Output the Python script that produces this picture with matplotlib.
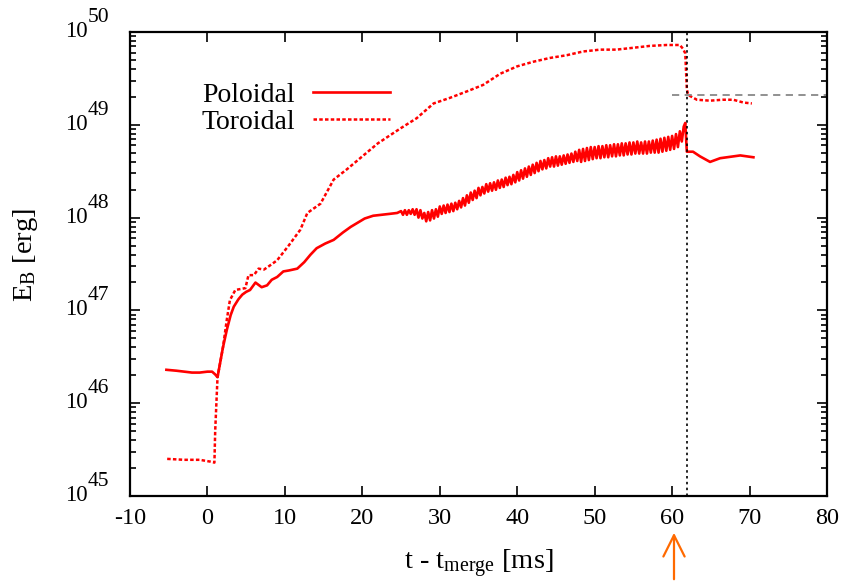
import numpy as np
import matplotlib
matplotlib.use("Agg")
from matplotlib import pyplot as plt
from matplotlib import transforms

# poloidal field energy, log10(E_B / erg)
t_pol = [-5.3, -4.0, -3.0, -2.0, -1.0, 0.0, 0.6, 1.0, 1.3, 1.6, 2.0, 2.5, 3.0, 3.4,
         4.0, 4.5, 5.0, 5.5, 6.2, 7.0, 7.7, 8.3, 9.0, 9.8, 10.5, 11.6, 12.5, 13.3,
         14.1, 15.2, 16.3, 17.5, 18.5, 19.3, 20.3, 21.4, 22.5, 23.5, 24.5,
         25.0, 25.25, 25.5, 25.75, 26.0, 26.25, 26.5, 26.75,
         27.0, 27.25, 27.5, 27.75, 28.0, 28.25, 28.5, 28.75,
         29.0, 29.25, 29.5, 29.75, 30.0, 30.25, 30.5, 30.75,
         31.0, 31.25, 31.5, 31.75, 32.0, 32.25, 32.5, 32.75,
         33.0, 33.25, 33.5, 33.75, 34.0, 34.25, 34.5, 34.75,
         35.0, 35.25, 35.5, 35.75, 36.0, 36.25, 36.5, 36.75,
         37.0, 37.25, 37.5, 37.75, 38.0, 38.25, 38.5, 38.75,
         39.0, 39.25, 39.5, 39.75, 40.0, 40.25, 40.5, 40.75,
         41.0, 41.25, 41.5, 41.75, 42.0, 42.25, 42.5, 42.75,
         43.0, 43.25, 43.5, 43.75, 44.0, 44.25, 44.5, 44.75,
         45.0, 45.25, 45.5, 45.75, 46.0, 46.25, 46.5, 46.75,
         47.0, 47.25, 47.5, 47.75, 48.0, 48.25, 48.5, 48.75,
         49.0, 49.25, 49.5, 49.75, 50.0, 50.25, 50.5, 50.75,
         51.0, 51.25, 51.5, 51.75, 52.0, 52.25, 52.5, 52.75,
         53.0, 53.25, 53.5, 53.75, 54.0, 54.25, 54.5, 54.75,
         55.0, 55.25, 55.5, 55.75, 56.0, 56.25, 56.5, 56.75,
         57.0, 57.25, 57.5, 57.75, 58.0, 58.25, 58.5, 58.75,
         59.0, 59.25, 59.5, 59.75, 60.0, 60.25, 60.5, 60.75,
         61.0, 61.25, 61.5, 61.7, 61.9,
         62.7, 63.6, 64.9, 66.2, 67.9, 68.8, 70.5]
logE_pol = [46.36, 46.35, 46.34, 46.33, 46.33, 46.34, 46.34, 46.31, 46.28, 46.42, 46.60, 46.79, 46.95, 47.04,
            47.12, 47.17, 47.20, 47.22, 47.30, 47.25, 47.27, 47.33, 47.36, 47.42, 47.43, 47.45, 47.52, 47.60,
            47.67, 47.72, 47.76, 47.84, 47.90, 47.94, 47.99, 48.02, 48.03, 48.04, 48.05,
            48.07, 48.03, 48.08, 48.03, 48.08, 48.04, 48.09, 48.03,
            48.09, 48.00, 48.08, 47.99, 48.05, 47.96, 48.06, 47.97,
            48.08, 47.99, 48.09, 48.01, 48.12, 48.04, 48.13, 48.05,
            48.14, 48.06, 48.15, 48.07, 48.16, 48.09, 48.18, 48.11,
            48.21, 48.13, 48.24, 48.16, 48.27, 48.19, 48.29, 48.21,
            48.32, 48.24, 48.33, 48.26, 48.36, 48.28, 48.37, 48.29,
            48.38, 48.30, 48.40, 48.32, 48.41, 48.33, 48.43, 48.35,
            48.44, 48.36, 48.46, 48.38, 48.49, 48.40, 48.51, 48.42,
            48.53, 48.44, 48.55, 48.46, 48.57, 48.48, 48.59, 48.50,
            48.61, 48.52, 48.62, 48.53, 48.64, 48.55, 48.65, 48.55,
            48.66, 48.56, 48.66, 48.57, 48.67, 48.58, 48.68, 48.59,
            48.69, 48.60, 48.71, 48.61, 48.73, 48.60, 48.74, 48.61,
            48.75, 48.62, 48.76, 48.63, 48.76, 48.64, 48.77, 48.64,
            48.77, 48.65, 48.78, 48.65, 48.78, 48.66, 48.79, 48.66,
            48.79, 48.67, 48.80, 48.67, 48.80, 48.68, 48.81, 48.68,
            48.81, 48.69, 48.82, 48.69, 48.81, 48.69, 48.82, 48.69,
            48.82, 48.70, 48.83, 48.70, 48.84, 48.70, 48.85, 48.71,
            48.86, 48.72, 48.87, 48.73, 48.88, 48.74, 48.90, 48.76,
            48.93, 48.82, 48.98, 49.02, 48.71,
            48.71, 48.66, 48.60, 48.64, 48.66, 48.67, 48.65]

# toroidal field energy
t_tor = [-5.2, -3.0, -1.0, 0.4, 0.9, 1.0, 1.3, 2.0, 2.5, 2.9, 3.6, 4.9, 5.3, 6.0,
         6.6, 7.3, 8.0, 9.0, 10.5, 12.0, 12.9, 14.6, 16.3, 18.0, 20.0, 22.0, 24.9,
         27.0, 29.2, 31.3, 33.5, 35.6, 37.8, 40.0, 42.1, 44.2, 46.4, 48.5, 50.7,
         52.8, 55.0, 57.1, 59.3, 61.0, 61.4, 61.7, 61.9, 62.1, 63.2, 64.9, 66.5,
         67.9, 69.2, 70.3]
logE_tor = [45.40, 45.39, 45.39, 45.37, 45.36, 45.70, 46.28, 46.60, 46.90, 47.11, 47.22, 47.24, 47.38, 47.38,
            47.45, 47.44, 47.48, 47.54, 47.70, 47.87, 48.05, 48.15, 48.41, 48.52, 48.66, 48.80, 48.96,
            49.07, 49.23, 49.29, 49.36, 49.43, 49.55, 49.63, 49.68, 49.72, 49.75, 49.79, 49.81,
            49.81, 49.83, 49.85, 49.86, 49.86, 49.82, 49.77, 49.38, 49.32, 49.27, 49.26, 49.27,
            49.27, 49.24, 49.23]

t_collapse = 61.9          # vertical dotted line
t_ref = [60, 80]           # horizontal grey dashed reference
E_ref = 2.1e49
y_decades = [45, 46, 47, 48, 49, 50]

plt.rcParams['font.family'] = ['Liberation Serif', 'DejaVu Serif']
plt.rcParams['mathtext.fontset'] = 'custom'
plt.rcParams['mathtext.rm'] = 'Liberation Serif'
plt.rcParams['mathtext.it'] = 'Liberation Serif:italic'
plt.rcParams['axes.unicode_minus'] = False
plt.rcParams['font.size'] = 17

fig = plt.figure(figsize=(8.46, 5.82), dpi=100)
ax = fig.add_axes([130 / 846, 1 - 496 / 582, 697 / 846, 464 / 582])

ax.plot(t_pol, 10 ** np.array(logE_pol), color='#ff0000', lw=1.9, label='Poloidal')
ax.plot(t_tor, 10 ** np.array(logE_tor), color='#ff0000', lw=1.8,
        ls=(0, (1.4, 0.9)), label='Toroidal')

ax.axvline(t_collapse, color='black', lw=1.2, ls=(0, (1.5, 2)))
ax.plot(t_ref, [E_ref, E_ref], color='#888888', lw=1.3, ls=(0, (4, 3)))

ax.set_yscale('log')
ax.set_xlim(-10, 80)
ax.set_ylim(1e45, 1e50)
ax.set_xticks(np.arange(-10, 81, 10))
ax.set_yticks([10.0 ** k for k in y_decades])
ax.set_yticklabels([])

for s in ax.spines.values():
    s.set_linewidth(1.6)
ax.tick_params(which='both', direction='in', top=True, right=True, width=1.2)
ax.tick_params(which='major', length=7, pad=9, labelsize=17.5)
ax.tick_params(which='minor', length=4)

# gnuplot-like "10^N" labels with a large exponent
trans = transforms.blended_transform_factory(ax.transAxes, ax.transData)
for k in y_decades:
    ax.annotate('10', xy=(0, 10.0 ** k), xycoords=trans, xytext=(-42, -5),
                textcoords='offset pixels', ha='right', va='baseline', fontsize=16.5)
    ax.annotate(str(k), xy=(0, 10.0 ** k), xycoords=trans, xytext=(-42, 10),
                textcoords='offset pixels', ha='left', va='baseline', fontsize=15.5)

ax.set_xlabel(r't - t$_{\mathrm{merge}}$ [ms]', fontsize=20.5, va='top')
ax.xaxis.set_label_coords(0.5, -0.11)
ax.set_ylabel(r'E$_{\mathrm{B}}$ [erg]', fontsize=20.5)
ax.yaxis.set_label_coords(-0.129, 0.52)

ax.legend(loc='upper right', bbox_to_anchor=((390 - 130) / 697, 0.892), frameon=False,
          markerfirst=False, fontsize=20, handlelength=2.77, labelspacing=0.06,
          handletextpad=0.65, borderpad=0, borderaxespad=0)

# orange arrow below the axis at t = 60
ax.annotate('', xy=(674, 582 - 530), xytext=(674, 0), xycoords='figure pixels',
            textcoords='figure pixels',
            arrowprops=dict(arrowstyle='->,head_length=0.9,head_width=0.45',
                            color='#ff6a00', lw=1.6))

fig.savefig('out.png', dpi=100)
